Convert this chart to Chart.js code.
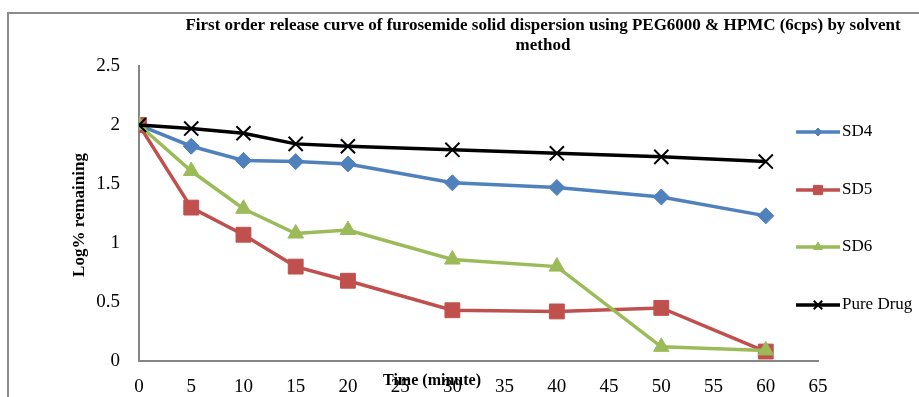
<!DOCTYPE html>
<html>
<head>
<meta charset="utf-8">
<script src="https://cdn.jsdelivr.net/npm/chart.js@4/dist/chart.umd.min.js"></script>
<style>
  html, body { margin: 0; padding: 0; background: #fff; }
  #wrap { width: 919px; height: 397px; }
</style>
</head>
<body>
<div id="wrap"><canvas id="chart" width="919" height="397"></canvas></div>
<script>
// Data
const times = [0, 5, 10, 15, 20, 30, 40, 50, 60];
const sd4 = [2.0, 1.82, 1.70, 1.69, 1.67, 1.51, 1.47, 1.39, 1.23];
const sd5 = [2.0, 1.30, 1.07, 0.80, 0.68, 0.43, 0.42, 0.45, 0.08];
const sd6 = [2.0, 1.61, 1.29, 1.08, 1.11, 0.86, 0.80, 0.12, 0.09];
const pureDrug = [2.0, 1.97, 1.93, 1.84, 1.82, 1.79, 1.76, 1.73, 1.69];
const seriesNames = ['SD4', 'SD5', 'SD6', 'Pure Drug'];

const titleLines = [
    'First order release curve of furosemide solid dispersion using PEG6000 & HPMC (6cps) by solvent',
    'method'
];
const xTitle = 'Time (minute)';
const yTitle = 'Log% remaining';

const SERIF = '"Liberation Serif", "Times New Roman", serif';

function toPoints(values) {
    return times.map((t, i) => ({ x: t, y: values[i] }));
}

const styles = [
    { color: '#4F81BD', point: 'rectRot', radius: 8, legendRadius: 4 },
    { color: '#C0504D', point: 'rect', radius: 10.5, legendRadius: 6.5 },
    { color: '#9BBB59', point: 'triangle', radius: 9, legendRadius: 5 },
    { color: '#000000', point: 'crossRot', radius: 10, legendRadius: 6 }
];

const datasets = [sd4, sd5, sd6, pureDrug].map((values, i) => ({
    label: seriesNames[i],
    data: toPoints(values),
    order: 4 - i, // later series drawn on top, like the original
    borderColor: styles[i].color,
    backgroundColor: styles[i].color,
    borderWidth: 3.5,
    pointStyle: styles[i].point,
    pointRadius: styles[i].radius,
    pointHoverRadius: styles[i].radius,
    pointBorderWidth: i === 3 ? 2 : 1,
    pointBorderColor: styles[i].color,
    pointBackgroundColor: styles[i].color,
    tension: 0
}));

// Titles, legend and outer frame drawn on top of the chart
const decorations = {
    id: 'decorations',
    afterDraw(chart) {
        const ctx = chart.ctx;
        ctx.save();

        // outer frame
        ctx.strokeStyle = '#8c8c8c';
        ctx.lineWidth = 2;
        ctx.strokeRect(8, 13, 1000, 500);

        ctx.fillStyle = '#000';
        ctx.textAlign = 'center';
        ctx.textBaseline = 'middle';

        // chart title
        ctx.font = 'bold 17px ' + SERIF;
        ctx.fillText(titleLines[0], 543, 26);
        ctx.fillText(titleLines[1], 543, 46);

        // y axis title
        ctx.save();
        ctx.translate(80, 215);
        ctx.rotate(-Math.PI / 2);
        ctx.fillText(yTitle, 0, 0);
        ctx.restore();

        // x axis title (sits over the tick labels like the original)
        ctx.font = 'bold 16px ' + SERIF;
        ctx.fillText(xTitle, 432, 381);

        // legend
        const legendY = [132, 190, 247, 305];
        ctx.font = '17px ' + SERIF;
        ctx.textAlign = 'left';
        datasets.forEach((ds, i) => {
            const y = legendY[i];
            ctx.strokeStyle = ds.borderColor;
            ctx.lineWidth = 3.5;
            ctx.beginPath();
            ctx.moveTo(796, y);
            ctx.lineTo(840, y);
            ctx.stroke();
            ctx.fillStyle = ds.borderColor;
            ctx.lineWidth = i === 3 ? 2 : 1;
            Chart.helpers.drawPoint(ctx, {
                pointStyle: ds.pointStyle,
                radius: styles[i].legendRadius,
                borderWidth: i === 3 ? 2 : 1
            }, 818, y);
            ctx.fillStyle = '#000';
            ctx.fillText(ds.label, 842, y);
        });

        ctx.restore();
    }
};

new Chart(document.getElementById('chart'), {
    type: 'line',
    data: { datasets },
    options: {
        responsive: false,
        animation: false,
        layout: { padding: { top: 66, right: 101, bottom: 0, left: 0 } },
        plugins: {
            legend: { display: false },
            title: { display: false },
            tooltip: { enabled: false }
        },
        scales: {
            x: {
                type: 'linear',
                min: 0,
                max: 65,
                ticks: {
                    stepSize: 5,
                    color: '#000',
                    padding: 15,
                    font: { family: SERIF, size: 19 },
                    maxRotation: 0
                },
                grid: { display: false, drawTicks: false },
                border: { display: true, color: '#868686', width: 2 },
                afterFit(scale) { scale.height = 36; }
            },
            y: {
                min: 0,
                max: 2.5,
                ticks: {
                    stepSize: 0.5,
                    color: '#000',
                    padding: 19,
                    font: { family: SERIF, size: 19 },
                    callback: (v) => String(v)
                },
                grid: { display: false, drawTicks: false },
                border: { display: true, color: '#868686', width: 2 },
                afterFit(scale) { scale.width = 139; }
            }
        }
    },
    plugins: [decorations]
});
</script>
</body>
</html>
